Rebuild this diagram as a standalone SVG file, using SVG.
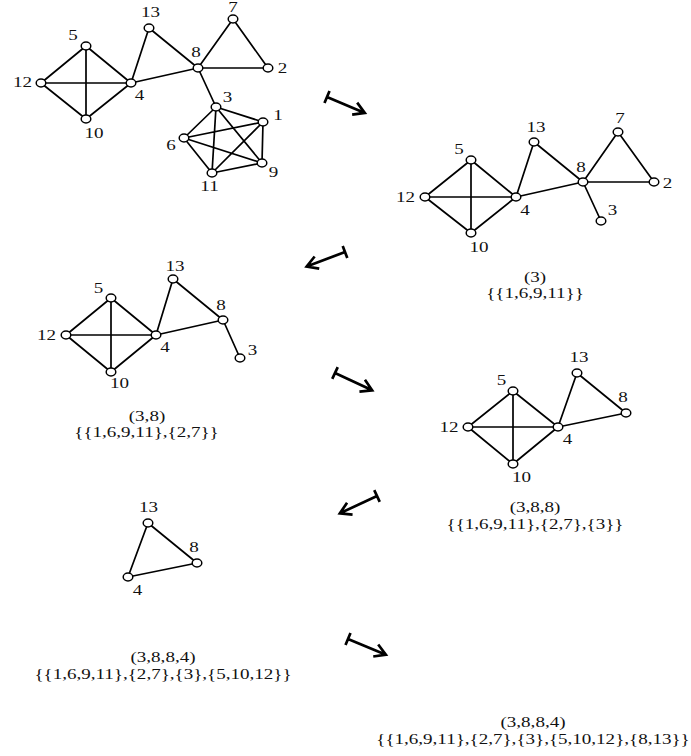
<svg xmlns="http://www.w3.org/2000/svg" xmlns:xlink="http://www.w3.org/1999/xlink" width="691" height="756" viewBox="0 0 691 756">
<style>
.e{stroke:#000;stroke-width:1.7;fill:none}
.n{fill:#fff;stroke:#000;stroke-width:1.5}
.l{font-family:"Liberation Serif","Times New Roman",serif;font-size:15px;fill:#111;text-anchor:middle}
.a{stroke:#000;stroke-width:2.7;fill:none;stroke-linejoin:miter}
</style>
<defs>
<path id="mapsto" class="a" d="M0,-6.5 V6.5 M0,0 H41 M30,-6.5 L41,0 L30,6.5"/>
<ellipse id="node" class="n" cx="0" cy="0" rx="4.8" ry="3.9"/>
</defs>
<rect width="691" height="756" fill="#fff"/>

<g id="connectors">
 <g id="edges-g1" class="e">
  <path d="M86,46 L41,83 M86,46 L131,83 M86,46 L86,119 M41,83 L131,83 M41,83 L86,119 M131,83 L86,119"/>
  <path d="M131,83 L149,28 M149,28 L198,68 M131,83 L198,68 M198,68 L233,19 M233,19 L268,68 M198,68 L268,68 M198,68 L216,107"/>
  <path d="M216,107 L263,122 M216,107 L184,138 M216,107 L262,163 M216,107 L212,173 M263,122 L184,138 M263,122 L262,163 M263,122 L212,173 M184,138 L262,163 M184,138 L212,173 M262,163 L212,173"/>
 </g>
 <g id="edges-g2" class="e">
  <path d="M471,160 L425,197 M471,160 L516,197 M471,160 L471,233 M425,197 L516,197 M425,197 L471,233 M516,197 L471,233"/>
  <path d="M516,197 L534,142 M534,142 L583,182 M516,197 L583,182 M583,182 L618,132 M618,132 L654,182 M583,182 L654,182 M583,182 L601,221"/>
 </g>
 <g id="edges-g3" class="e">
  <path d="M111,298 L66,335 M111,298 L156,335 M111,298 L111,372 M66,335 L156,335 M66,335 L111,372 M156,335 L111,372"/>
  <path d="M156,335 L173,279 M173,279 L223,320 M156,335 L223,320 M223,320 L240,358"/>
 </g>
 <g id="edges-g4" class="e">
  <path d="M513,391 L468,427 M513,391 L558,427 M513,391 L513,464 M468,427 L558,427 M468,427 L513,464 M558,427 L513,464"/>
  <path d="M558,427 L577,373 M577,373 L626,413 M558,427 L626,413"/>
 </g>
 <g id="edges-g5" class="e">
  <path d="M148,523 L197,563 M197,563 L128,577 M128,577 L148,523"/>
 </g>
 <g id="arrows">
  <use xlink:href="#mapsto" href="#mapsto" transform="translate(327,97) rotate(22.8)"/>
  <use xlink:href="#mapsto" href="#mapsto" transform="translate(345,252) rotate(159.3)"/>
  <use xlink:href="#mapsto" href="#mapsto" transform="translate(335,373) rotate(25)"/>
  <use xlink:href="#mapsto" href="#mapsto" transform="translate(377,496) rotate(155)"/>
  <use xlink:href="#mapsto" href="#mapsto" transform="translate(348,639) rotate(22.5)"/>
 </g>
</g>

<g id="graph1">
 <g id="g1-n5"><use href="#node" x="86" y="46"/><text class="l" transform="translate(73,40) scale(1.27,1)">5</text></g>
 <g id="g1-n12"><use href="#node" x="41" y="83"/><text class="l" transform="translate(22.5,87) scale(1.27,1)">12</text></g>
 <g id="g1-n4"><use href="#node" x="131" y="83"/><text class="l" transform="translate(139.5,100) scale(1.27,1)">4</text></g>
 <g id="g1-n10"><use href="#node" x="86" y="119"/><text class="l" transform="translate(94,138) scale(1.27,1)">10</text></g>
 <g id="g1-n13"><use href="#node" x="149" y="28"/><text class="l" transform="translate(150.5,17) scale(1.27,1)">13</text></g>
 <g id="g1-n8"><use href="#node" x="198" y="68"/><text class="l" transform="translate(196,57) scale(1.27,1)">8</text></g>
 <g id="g1-n7"><use href="#node" x="233" y="19"/><text class="l" transform="translate(233,12) scale(1.27,1)">7</text></g>
 <g id="g1-n2"><use href="#node" x="268" y="68"/><text class="l" transform="translate(282.5,73) scale(1.27,1)">2</text></g>
 <g id="g1-n3"><use href="#node" x="216" y="107"/><text class="l" transform="translate(227.5,102) scale(1.27,1)">3</text></g>
 <g id="g1-n1"><use href="#node" x="263" y="122"/><text class="l" transform="translate(278,120) scale(1.27,1)">1</text></g>
 <g id="g1-n6"><use href="#node" x="184" y="138"/><text class="l" transform="translate(171,150) scale(1.27,1)">6</text></g>
 <g id="g1-n9"><use href="#node" x="262" y="163"/><text class="l" transform="translate(273.5,177) scale(1.27,1)">9</text></g>
 <g id="g1-n11"><use href="#node" x="212" y="173"/><text class="l" transform="translate(209.5,191) scale(1.27,1)">11</text></g>
</g>

<g id="graph2">
 <g id="g2-n5"><use href="#node" x="471" y="160"/><text class="l" transform="translate(459,154) scale(1.27,1)">5</text></g>
 <g id="g2-n12"><use href="#node" x="425" y="197"/><text class="l" transform="translate(405.5,202) scale(1.27,1)">12</text></g>
 <g id="g2-n4"><use href="#node" x="516" y="197"/><text class="l" transform="translate(525,215) scale(1.27,1)">4</text></g>
 <g id="g2-n10"><use href="#node" x="471" y="233"/><text class="l" transform="translate(479,252) scale(1.27,1)">10</text></g>
 <g id="g2-n13"><use href="#node" x="534" y="142"/><text class="l" transform="translate(536,132) scale(1.27,1)">13</text></g>
 <g id="g2-n8"><use href="#node" x="583" y="182"/><text class="l" transform="translate(581,172) scale(1.27,1)">8</text></g>
 <g id="g2-n7"><use href="#node" x="618" y="132"/><text class="l" transform="translate(620,123) scale(1.27,1)">7</text></g>
 <g id="g2-n2"><use href="#node" x="654" y="182"/><text class="l" transform="translate(667.5,188) scale(1.27,1)">2</text></g>
 <g id="g2-n3"><use href="#node" x="601" y="221"/><text class="l" transform="translate(612.5,215) scale(1.27,1)">3</text></g>
 <g id="g2-caption"><text class="l" transform="translate(535,282) scale(1.27,1)">(3)</text><text class="l" transform="translate(535,298) scale(1.27,1)">{{1,6,9,11}}</text></g>
</g>

<g id="graph3">
 <g id="g3-n5"><use href="#node" x="111" y="298"/><text class="l" transform="translate(98.5,293) scale(1.27,1)">5</text></g>
 <g id="g3-n12"><use href="#node" x="66" y="335"/><text class="l" transform="translate(46.5,340) scale(1.27,1)">12</text></g>
 <g id="g3-n4"><use href="#node" x="156" y="335"/><text class="l" transform="translate(165,352) scale(1.27,1)">4</text></g>
 <g id="g3-n10"><use href="#node" x="111" y="372"/><text class="l" transform="translate(119.5,388) scale(1.27,1)">10</text></g>
 <g id="g3-n13"><use href="#node" x="173" y="279"/><text class="l" transform="translate(175,271) scale(1.27,1)">13</text></g>
 <g id="g3-n8"><use href="#node" x="223" y="320"/><text class="l" transform="translate(221,310) scale(1.27,1)">8</text></g>
 <g id="g3-n3"><use href="#node" x="240" y="358"/><text class="l" transform="translate(252.5,355) scale(1.27,1)">3</text></g>
 <g id="g3-caption"><text class="l" transform="translate(147,421) scale(1.27,1)">(3,8)</text><text class="l" transform="translate(146.5,437) scale(1.27,1)">{{1,6,9,11},{2,7}}</text></g>
</g>

<g id="graph4">
 <g id="g4-n5"><use href="#node" x="513" y="391"/><text class="l" transform="translate(501.5,385) scale(1.27,1)">5</text></g>
 <g id="g4-n12"><use href="#node" x="468" y="427"/><text class="l" transform="translate(449,432) scale(1.27,1)">12</text></g>
 <g id="g4-n4"><use href="#node" x="558" y="427"/><text class="l" transform="translate(567.5,444) scale(1.27,1)">4</text></g>
 <g id="g4-n10"><use href="#node" x="513" y="464"/><text class="l" transform="translate(521.5,482) scale(1.27,1)">10</text></g>
 <g id="g4-n13"><use href="#node" x="577" y="373"/><text class="l" transform="translate(579,362) scale(1.27,1)">13</text></g>
 <g id="g4-n8"><use href="#node" x="626" y="413"/><text class="l" transform="translate(623,402) scale(1.27,1)">8</text></g>
 <g id="g4-caption"><text class="l" transform="translate(535,512) scale(1.27,1)">(3,8,8)</text><text class="l" transform="translate(535,529) scale(1.27,1)">{{1,6,9,11},{2,7},{3}}</text></g>
</g>

<g id="graph5">
 <g id="g5-n13"><use href="#node" x="148" y="523"/><text class="l" transform="translate(148.5,512) scale(1.27,1)">13</text></g>
 <g id="g5-n8"><use href="#node" x="197" y="563"/><text class="l" transform="translate(194,552) scale(1.27,1)">8</text></g>
 <g id="g5-n4"><use href="#node" x="128" y="577"/><text class="l" transform="translate(137.5,595) scale(1.27,1)">4</text></g>
 <g id="g5-caption"><text class="l" transform="translate(163,662) scale(1.27,1)">(3,8,8,4)</text><text class="l" transform="translate(163,679) scale(1.27,1)">{{1,6,9,11},{2,7},{3},{5,10,12}}</text></g>
</g>

<g id="final-caption">
 <text class="l" transform="translate(533,727) scale(1.27,1)">(3,8,8,4)</text>
 <text class="l" transform="translate(533,744) scale(1.27,1)">{{1,6,9,11},{2,7},{3},{5,10,12},{8,13}}</text>
</g>
</svg>
